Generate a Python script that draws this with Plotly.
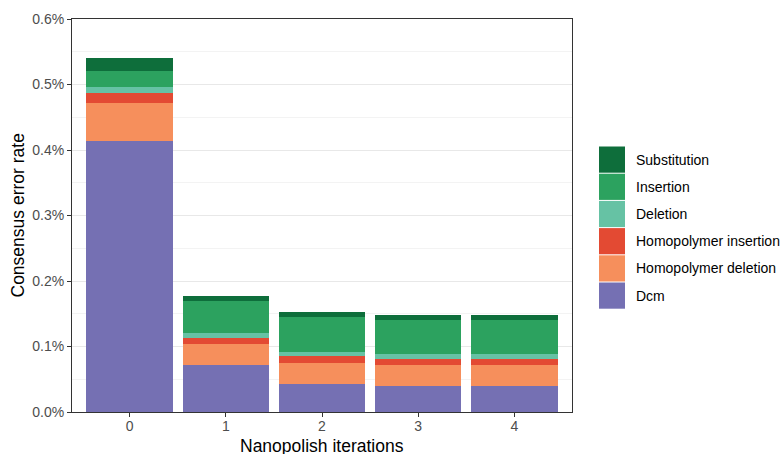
import plotly.graph_objects as go

iterations = [0, 1, 2, 3, 4]
tick_labels = ["0", "1", "2", "3", "4"]

# values in fraction (0.00413 = 0.413%)
dcm = [0.00413, 0.000722, 0.000432, 0.000401, 0.000401]
homo_deletion = [0.000595, 0.000320, 0.000320, 0.000321, 0.000321]
homo_insertion = [0.000148, 0.000092, 0.000107, 0.000091, 0.000091]
deletion = [0.000096, 0.000076, 0.000061, 0.000076, 0.000076]
insertion = [0.000244, 0.000488, 0.000534, 0.000518, 0.000518]
substitution = [0.000194, 0.000076, 0.000076, 0.000077, 0.000077]

series = [
    ("Dcm", dcm, "#7570b3"),
    ("Homopolymer deletion", homo_deletion, "#f68f5c"),
    ("Homopolymer insertion", homo_insertion, "#e34a33"),
    ("Deletion", deletion, "#66c2a4"),
    ("Insertion", insertion, "#2ca25f"),
    ("Substitution", substitution, "#0e6e3b"),
]

fig = go.Figure()
for name, vals, color in series:
    fig.add_trace(go.Bar(
        x=iterations, y=vals, name=name, width=0.9,
        marker=dict(color=color, line=dict(width=0)),
        showlegend=False,
    ))

FONT = "Liberation Sans, Arial, Helvetica, sans-serif"

fig.update_layout(
    barmode="stack",
    width=783, height=454,
    margin=dict(l=72, r=211, t=19, b=42),
    plot_bgcolor="white", paper_bgcolor="white",
    font=dict(family=FONT, size=14, color="#000000"),
    xaxis=dict(
        range=[-0.6, 4.6], tickmode="array", tickvals=iterations, ticktext=tick_labels,
        showgrid=False, zeroline=False,
        showline=True, linecolor="#333333", linewidth=1, mirror=True,
        ticks="outside", ticklen=4, tickcolor="#333333",
        ticklabelstandoff=-3,
        tickfont=dict(size=14, color="#4d4d4d"),
        automargin=False,
    ),
    yaxis=dict(
        range=[0, 0.006], tickmode="array",
        tickvals=[0, 0.001, 0.002, 0.003, 0.004, 0.005, 0.006],
        tickformat=".1%",
        showgrid=True, gridcolor="#e8e8e8", gridwidth=1,
        minor=dict(tickvals=[0.0005, 0.0015, 0.0025, 0.0035, 0.0045, 0.0055],
                   showgrid=True, gridcolor="#f3f3f3", gridwidth=1),
        zeroline=False,
        showline=True, linecolor="#333333", linewidth=1, mirror=True,
        ticks="outside", ticklen=4, tickcolor="#333333",
        tickfont=dict(size=14, color="#4d4d4d"),
        automargin=False,
    ),
)

plot_w = 783 - 72 - 211
plot_h = 454 - 19 - 42
def px_to_paper_x(px):
    return (px - 72) / plot_w
def px_to_paper_y(py):
    return (454 - 42 - py) / plot_h

# axis titles
fig.add_annotation(xref="paper", yref="paper", x=0.5, y=px_to_paper_y(445.5),
                   text="Nanopolish iterations", showarrow=False,
                   xanchor="center", yanchor="middle",
                   font=dict(size=17.5, color="#000000", family=FONT))
fig.add_annotation(xref="paper", yref="paper", x=px_to_paper_x(17), y=0.5,
                   text="Consensus error rate", showarrow=False, textangle=-90,
                   xanchor="center", yanchor="middle",
                   font=dict(size=17.5, color="#000000", family=FONT))

# custom ggplot-style legend (top to bottom: reversed stacking order)
key_top = 146.5
key_h = 27.2
key_x0, key_x1 = 599, 625
for i, (name, vals, color) in enumerate(reversed(series)):
    y0 = key_top + i * key_h
    y1 = y0 + key_h - 1
    fig.add_shape(type="rect", xref="paper", yref="paper",
                  x0=px_to_paper_x(key_x0), x1=px_to_paper_x(key_x1),
                  y0=px_to_paper_y(y1), y1=px_to_paper_y(y0),
                  fillcolor=color, line=dict(width=0), layer="above")
    fig.add_annotation(xref="paper", yref="paper",
                       x=px_to_paper_x(634), y=px_to_paper_y((y0 + y1) / 2),
                       text=name, showarrow=False, xanchor="left", yanchor="middle",
                       font=dict(size=14, color="#000000", family=FONT))

fig.write_html("out.html", config={"displayModeBar": False},
               post_script="document.body.style.margin='0';")
